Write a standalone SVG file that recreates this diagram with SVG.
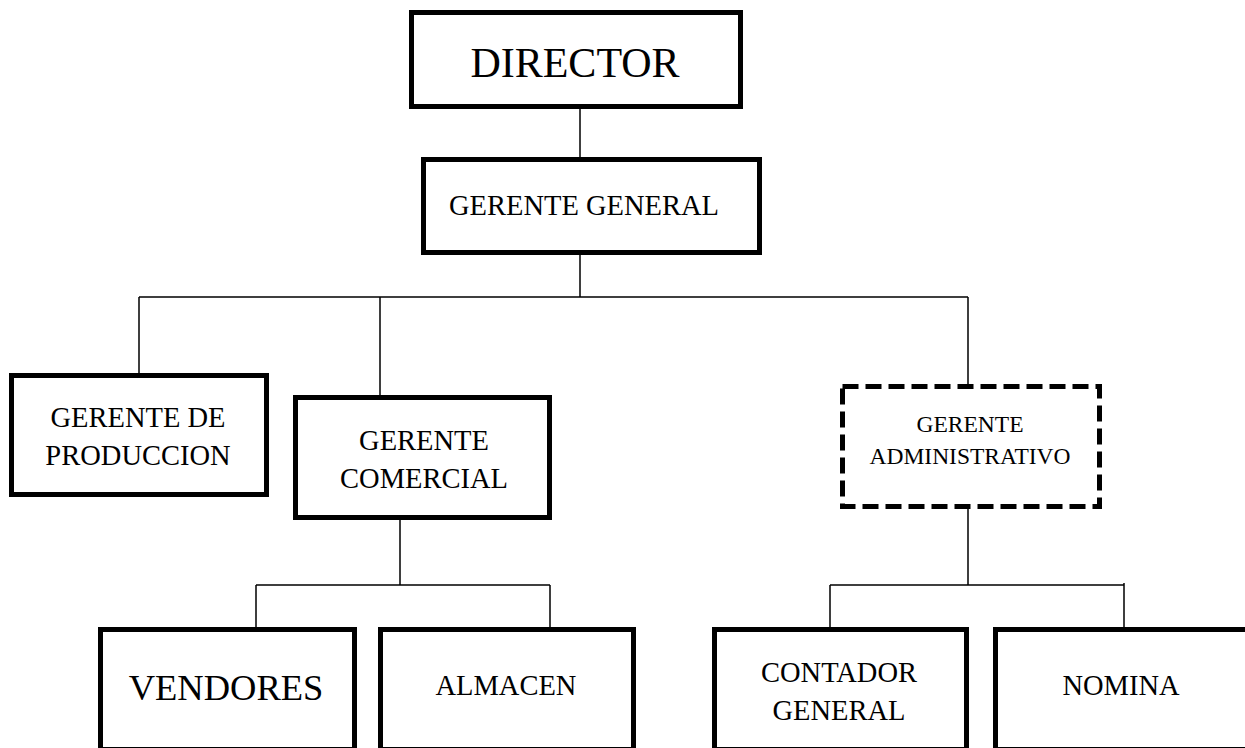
<svg xmlns="http://www.w3.org/2000/svg" width="1245" height="748" viewBox="0 0 1245 748">
<style>
.box{fill:#fff;stroke:#000;stroke-width:5}
.dash{fill:#fff;stroke:#000;stroke-width:5;stroke-dasharray:16 7}
.conn{fill:none;stroke:#000;stroke-width:1.5}
text{font-family:"Liberation Serif","Times New Roman",serif;fill:#000;text-anchor:middle}
.t{font-size:28.5px}
.s{font-size:23.5px}
</style>
<rect width="1245" height="748" fill="#fff"/>
<g id="connectors">
<path class="conn" d="M580 109V157"/>
<path class="conn" d="M580 255V297M139 297H968M139 297V373M380 297V395M968 297V384"/>
<path class="conn" d="M400 520V585M256 585H550M256 585V627M550 585V627"/>
<path class="conn" d="M968 509V585M830 585H1124M830 585V627M1124 583V627"/>
</g>
<g id="director">
<rect class="box" x="411.5" y="12.5" width="329" height="94"/>
<text x="575" y="77" font-size="42">DIRECTOR</text>
</g>
<g id="gerente-general">
<rect class="box" x="423.5" y="159.5" width="336" height="93"/>
<text class="t" x="584" y="215">GERENTE GENERAL</text>
</g>
<g id="gerente-produccion">
<rect class="box" x="11.5" y="375.5" width="255" height="119"/>
<text class="t" x="138" y="427">GERENTE DE</text>
<text class="t" x="138" y="465">PRODUCCION</text>
</g>
<g id="gerente-comercial">
<rect class="box" x="295.5" y="397.5" width="254" height="120"/>
<text class="t" x="424" y="450">GERENTE</text>
<text class="t" x="424" y="488">COMERCIAL</text>
</g>
<g id="gerente-administrativo">
<rect class="dash" x="842.5" y="386.5" width="257" height="120"/>
<text class="s" x="970" y="432">GERENTE</text>
<text class="s" x="970" y="464">ADMINISTRATIVO</text>
</g>
<g id="vendores">
<rect class="box" x="100.5" y="629.5" width="254" height="120"/>
<text x="226" y="700" font-size="36.5">VENDORES</text>
</g>
<g id="almacen">
<rect class="box" x="380.5" y="629.5" width="253" height="120"/>
<text class="t" x="506" y="695">ALMACEN</text>
</g>
<g id="contador-general">
<rect class="box" x="714.5" y="629.5" width="252" height="120"/>
<text class="t" x="839" y="682">CONTADOR</text>
<text class="t" x="839" y="720">GENERAL</text>
</g>
<g id="nomina">
<rect class="box" x="995.5" y="629.5" width="254" height="120"/>
<text class="t" x="1121" y="695">NOMINA</text>
</g>
</svg>
